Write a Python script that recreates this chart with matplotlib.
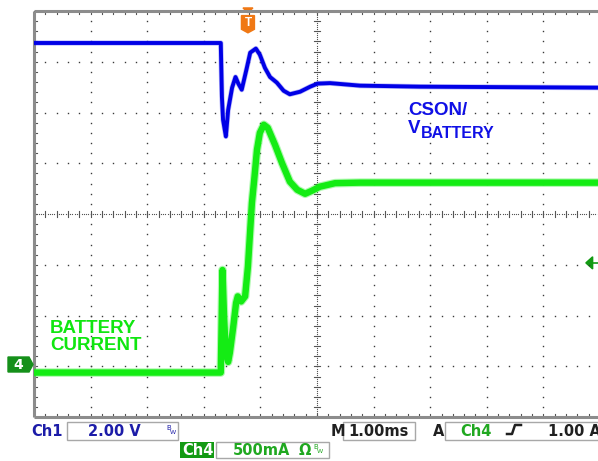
import numpy as np
import matplotlib.pyplot as plt
from matplotlib.transforms import Affine2D
from matplotlib.patches import Rectangle, Polygon
from matplotlib.lines import Line2D

# time in divisions (1.00 ms/div), levels in screen divisions
cson_t = [0, 3.30, 3.32, 3.34, 3.39, 3.43, 3.50, 3.56, 3.61, 3.67, 3.76, 3.82,
          3.92, 3.99, 4.08, 4.17, 4.29, 4.41, 4.52, 4.70, 4.88, 5.01, 5.23,
          5.76, 6.82, 10.0]
cson_v = [7.37, 7.37, 6.31, 5.86, 5.53, 6.05, 6.49, 6.70, 6.57, 6.45, 6.88, 7.18,
          7.26, 7.14, 6.88, 6.70, 6.59, 6.43, 6.36, 6.41, 6.51, 6.57, 6.58,
          6.53, 6.51, 6.49]

ibat_t = [0, 3.30, 3.33, 3.36, 3.39, 3.43, 3.46, 3.52, 3.57, 3.60, 3.66, 3.73,
          3.78, 3.82, 3.85, 3.89, 3.94, 3.99, 4.06, 4.13, 4.26, 4.38, 4.52,
          4.65, 4.79, 4.91, 5.05, 5.32, 5.76, 10.0]
ibat_v = [0.88, 0.88, 2.90, 1.92, 1.27, 1.09, 1.27, 1.78, 2.25, 2.38, 2.28, 2.38,
          2.97, 3.69, 4.22, 4.67, 5.27, 5.60, 5.76, 5.70, 5.36, 5.01, 4.64,
          4.48, 4.40, 4.46, 4.54, 4.61, 4.62, 4.62]

trig_pos = 3.78
trig_level = 3.04

W, H = 598, 461
fig = plt.figure(figsize=(W / 100, H / 100), dpi=100)
fig.patch.set_facecolor('white')
pix = Affine2D().scale(1, -1).translate(0, H)

ax = fig.add_axes([34 / W, (H - 417.25) / H, 566 / W, 406.25 / H])
ax.set_xlim(0, 10)
ax.set_ylim(0, 8)
ax.axis('off')

dot = '#3a3a3a'
# graticule dots
for k in range(1, 10):
    if k == 5:
        continue
    ys = np.arange(0, 8.01, 0.2)
    ax.plot([k] * len(ys), ys, ls='none', marker='s', ms=1.0, mew=0, color=dot)
for j in range(1, 8):
    if j == 4:
        continue
    xs = np.arange(0, 10.01, 0.2)
    ax.plot(xs, [j] * len(xs), ls='none', marker='s', ms=1.0, mew=0, color=dot)

# centre crosshair
ax.plot(np.arange(0, 10.01, 0.04), [4] * 251, ls='none', marker='s', ms=0.8,
        mew=0, color='#555555')
ax.plot([5] * 201, np.arange(0, 8.01, 0.04), ls='none', marker='s', ms=0.8,
        mew=0, color='#555555')
for x in np.arange(0, 10.01, 0.2):
    ax.plot([x, x], [4 - 0.06, 4 + 0.06], color='#555555', lw=0.8)
for y in np.arange(0, 8.01, 0.2):
    ax.plot([5 - 0.055, 5 + 0.055], [y, y], color='#555555', lw=0.8)

# border ticks
for x in np.arange(0, 10.01, 0.2):
    ax.plot([x, x], [8, 8 - 0.06], color='#555555', lw=0.8)
    ax.plot([x, x], [0, 0.06], color='#555555', lw=0.8)
for y in np.arange(0, 8.01, 0.2):
    ax.plot([0, 0.055], [y, y], color='#555555', lw=0.8)

# frame
ax.plot([0, 10], [8, 8], color='#8c8c8c', lw=2.2, clip_on=False, solid_capstyle='butt')
ax.plot([0, 10], [0, 0], color='#8c8c8c', lw=2.2, clip_on=False, solid_capstyle='butt')
ax.plot([0, 0], [0, 8], color='#8c8c8c', lw=2.2, clip_on=False, solid_capstyle='butt')

# traces
ax.plot(cson_t, cson_v, color='#2020f0', lw=3.8, alpha=0.3, solid_joinstyle='round')
ax.plot(cson_t, cson_v, color='#0000e6', lw=2.8, solid_joinstyle='round')
ax.plot(ibat_t, ibat_v, color='#20ee20', lw=6.2, alpha=0.35, solid_joinstyle='round')
ax.plot(ibat_t, ibat_v, color='#14ec14', lw=4.6, solid_joinstyle='round')

# trigger position marker
orange = '#f07814'
tw = 6.5 / 56.6
ax.add_patch(Polygon([(trig_pos - 5 / 56.6, 8.06), (trig_pos + 5 / 56.6, 8.06),
                      (trig_pos, 7.97)], closed=True, color=orange, clip_on=False))
ax.add_patch(Polygon([(trig_pos - tw, 7.91), (trig_pos + tw, 7.91),
                      (trig_pos + tw, 7.64), (trig_pos, 7.57),
                      (trig_pos - tw, 7.64)], closed=True, color=orange, clip_on=False))
ax.text(trig_pos, 7.76, 'T', color='white', fontsize=8.5, fontweight='bold',
        ha='center', va='center', family='Liberation Sans')

# trigger level marker
ax.add_patch(Polygon([(9.75, trig_level), (9.87, trig_level + 0.12),
                      (9.87, trig_level - 0.12)], closed=True, color='#129a12',
                     clip_on=False))
ax.plot([9.85, 10.0], [trig_level, trig_level], color='#129a12', lw=1.2, clip_on=False)

# channel 4 ground marker
fig.add_artist(Polygon([(8, 357), (29, 357), (33, 364.5), (29, 372), (8, 372)],
                       closed=True, color='#15901a', transform=pix))
fig.text(18, 365, '4', transform=pix, color='white', fontsize=10,
         fontweight='bold', ha='center', va='center', family='DejaVu Sans')

# annotations
blue = '#1010e6'
green = '#10e610'
fig.text(408, 115, 'CSON/', transform=pix, color=blue, fontsize=13.5,
         fontweight='bold', family='Liberation Sans', va='baseline')
fig.text(408, 133, 'V', transform=pix, color=blue, fontsize=13.5,
         fontweight='bold', family='Liberation Sans', va='baseline')
fig.text(421, 138, 'BATTERY', transform=pix, color=blue, fontsize=11.5,
         fontweight='bold', family='Liberation Sans', va='baseline')
fig.text(50, 333, 'BATTERY', transform=pix, color=green, fontsize=13.5,
         fontweight='bold', family='Liberation Sans', va='baseline')
fig.text(50, 350, 'CURRENT', transform=pix, color=green, fontsize=13.5,
         fontweight='bold', family='Liberation Sans', va='baseline')

# status bar
box_ec = '#a8a8a8'
for x0, y0, x1, y1 in [(67, 422, 178, 440), (216, 442, 329, 458),
                       (343, 422, 415, 440), (445, 422, 620, 440)]:
    fig.add_artist(Rectangle((x0, y1), x1 - x0, y0 - y1, transform=pix,
                             facecolor='white', edgecolor=box_ec, lw=1))
fig.add_artist(Rectangle((180, 458), 34, -16, transform=pix,
                         facecolor='#139a13', edgecolor='none'))

ch1c = '#1c1ca8'
ch4c = '#20a820'
sb = dict(transform=pix, fontsize=10.5, va='baseline', family='DejaVu Sans',
          fontweight='bold')
fig.text(31, 436, 'Ch1', color=ch1c, **sb)
fig.text(88, 436, '2.00 V', color=ch1c, **sb)
fig.text(166, 430, 'B', color=ch1c, transform=pix, fontsize=5, va='baseline')
fig.text(170, 434, 'W', color=ch1c, transform=pix, fontsize=4.5, va='baseline')
fig.text(182, 455, 'Ch4', color='white', **sb)
fig.text(233, 455, '500mA', color=ch4c, **sb)
fig.text(299, 455, 'Ω', color=ch4c, **sb)
fig.text(313, 449, 'B', color=ch4c, transform=pix, fontsize=5, va='baseline')
fig.text(317, 453, 'W', color=ch4c, transform=pix, fontsize=4.5, va='baseline')
fig.text(331, 436, 'M', color='#202020', **sb)
fig.text(348, 436, '1.00ms', color='#202020', **sb)
fig.text(433, 436, 'A', color='#202020', **sb)
fig.text(460, 436, 'Ch4', color=ch4c, **sb)
fig.add_artist(Line2D([507, 512, 515, 521], [434, 434, 425, 425], color='#202020',
                      lw=1.8, transform=pix))
fig.text(548, 436, '1.00 A', color='#202020', **sb)

fig.savefig('out.png', dpi=100, facecolor='white')
